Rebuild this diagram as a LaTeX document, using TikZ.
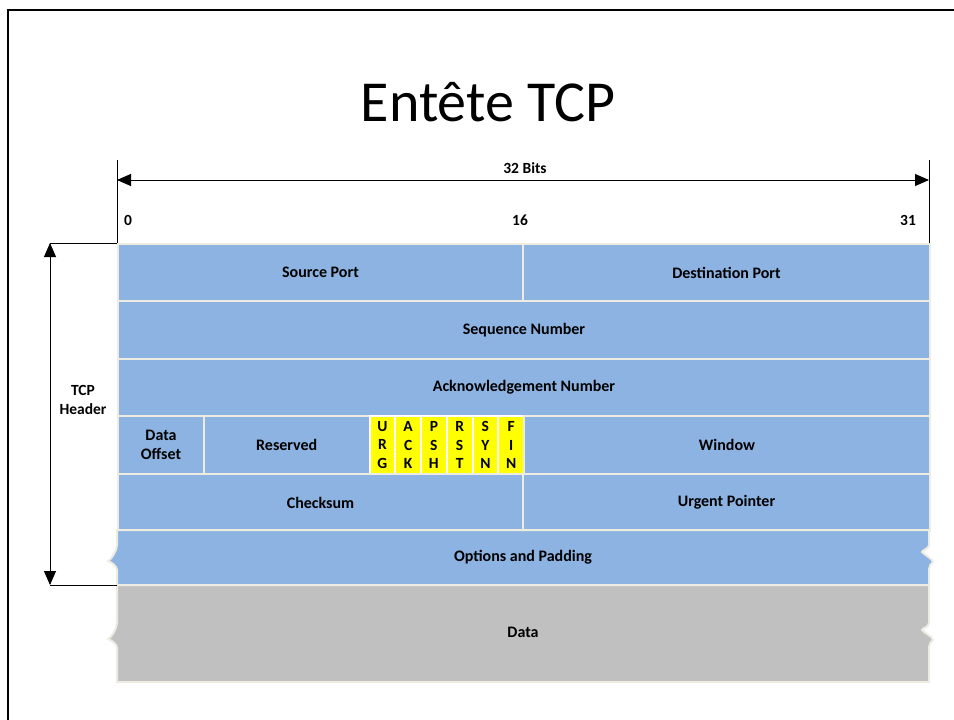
\documentclass[tikz,border=0pt]{standalone}
\usepackage{fontspec}
\setmainfont{Carlito}
\usetikzlibrary{arrows.meta}
\definecolor{rowblue}{HTML}{8DB3E2}
\definecolor{datagrey}{HTML}{C0C0C0}
\definecolor{edgecream}{HTML}{EEECE1}
\definecolor{flagyellow}{HTML}{FFFF00}
\tikzset{
  cell/.style={draw=edgecream, line width=2pt, fill=rowblue, inner sep=0pt,
    anchor=north west, align=center, font=\bfseries\fontsize{16}{19}\selectfont},
  flagcell/.style={draw=white, line width=2pt, fill=flagyellow, inner sep=0pt,
    anchor=north west, align=center, minimum width=25.75pt, minimum height=58pt,
    font=\bfseries\fontsize{15.5}{18.5}\selectfont},
  lbl/.style={font=\bfseries\fontsize{15.5}{18}\selectfont, inner sep=0pt},
  dimline/.style={line width=0.9pt},
  dimarrow/.style={line width=0.9pt, {Triangle[length=14pt,width=12pt]}-{Triangle[length=14pt,width=12pt]}}
}
\newcommand{\tornbox}[4]{%
  \path[draw=edgecream, line width=2pt, fill=#3]
    (117,#1) -- (929,#1)
    -- ++(0,{#4-#1+15})
    .. controls ++(0,4) and ++(0,-2) .. ++(-7,7)
    .. controls ++(4,4) and ++(0,-3) .. ++(11,10)
    .. controls ++(-2,2) and ++(0,-3) .. ++(-4,7)
    -- (929,#2) -- (117,#2)
    -- (117,{#4+40})
    .. controls ++(0,-4) and ++(3,1) .. ++(-9,-9)
    .. controls ++(4,-3) and ++(-3,6) .. ++(8,-11)
    .. controls ++(1,-3) and ++(0,3) .. ++(1,-5)
    -- cycle;}
\begin{document}
\begin{tikzpicture}[x=1pt,y=-1pt]
\useasboundingbox (0,0) rectangle (954,720);
% slide frame
\draw[line width=2pt] (8,720) -- (8,10) -- (954,10);
% title
\node[font=\fontsize{58}{64}\selectfont, inner sep=0pt] (title) at (488,102) {Entête TCP};

% bit ruler
\coordinate (rl0) at (117,160); \coordinate (rl1) at (117,243);
\coordinate (rr0) at (929,160); \coordinate (rr1) at (929,243);
\draw[dimline] (rl0) -- (rl1);
\draw[dimline] (rr0) -- (rr1);
\coordinate (al) at (117,180); \coordinate (ar) at (929,180);
\draw[dimarrow] (al) -- (ar);
\node[lbl] (bits) at (525,168) {32 Bits};
\node[lbl] (b0) at (128,220) {0};
\node[lbl] (b16) at (520,220) {16};
\node[lbl] (b31) at (908,220) {31};

% header rows
\node[cell, minimum width=405pt, minimum height=57pt] (sp) at (117,243) {Source Port};
\node[cell, minimum width=407pt, minimum height=57pt] (dp) at (522,243) {Destination Port};
\node[cell, minimum width=812pt, minimum height=58pt] (seq) at (117,300) {Sequence Number};
\node[cell, minimum width=812pt, minimum height=57pt] (ack) at (117,358) {Acknowledgement Number};
\node[cell, minimum width=86pt, minimum height=58pt, font=\bfseries\fontsize{16}{18.5}\selectfont] (off) at (117,415) {Data\\Offset};
\node[cell, minimum width=165.5pt, minimum height=58pt] (res) at (203,415) {Reserved};
\node[flagcell] (urgf) at (368.5,415) {U\\R\\G};
\node[flagcell] (ackf) at (394.25,415) {A\\C\\K};
\node[flagcell] (pshf) at (420,415) {P\\S\\H};
\node[flagcell] (rstf) at (445.75,415) {R\\S\\T};
\node[flagcell] (synf) at (471.5,415) {S\\Y\\N};
\node[flagcell] (finf) at (497.25,415) {F\\I\\N};
\node[cell, minimum width=406pt, minimum height=58pt] (win) at (523,415) {Window};
\node[cell, minimum width=405pt, minimum height=57pt] (chk) at (117,473) {Checksum};
\node[cell, minimum width=407pt, minimum height=57pt] (urg) at (522,473) {Urgent Pointer};

% options row and data, with torn edges
\tornbox{530}{585}{rowblue}{530}
\tornbox{585}{682}{datagrey}{608}
\node[lbl, font=\bfseries\fontsize{16}{19}\selectfont] (opt) at (523,557) {Options and Padding};
\node[lbl, font=\bfseries\fontsize{16}{19}\selectfont] (data) at (523,632) {Data};

% header span marker
\coordinate (ht) at (50,243); \coordinate (hb) at (50,585);
\coordinate (htr) at (117,243); \coordinate (hbr) at (117,585);
\draw[dimline] (ht) -- (htr);
\draw[dimline] (hb) -- (hbr);
\draw[dimarrow] (ht) -- (hb);
\node[lbl, align=center, font=\bfseries\fontsize{15.5}{19}\selectfont] (hdr) at (83,400) {TCP\\Header};
\end{tikzpicture}
\end{document}
